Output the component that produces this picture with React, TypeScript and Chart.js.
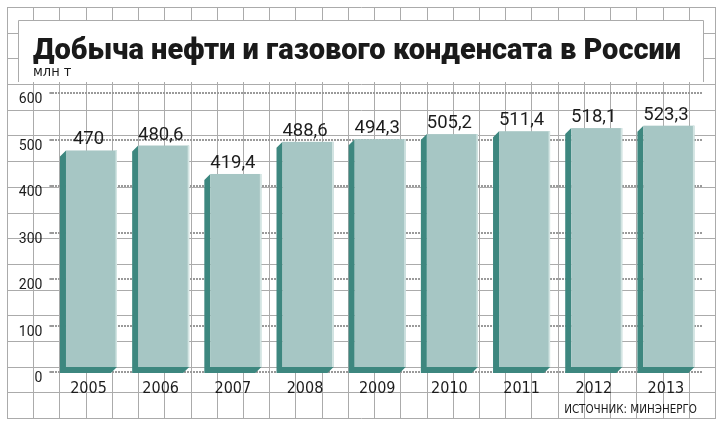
import React, { useEffect, useRef } from "react";
import { Chart, registerables } from "chart.js";

Chart.register(...registerables);

const years = ["2005", "2006", "2007", "2008", "2009", "2010", "2011", "2012", "2013"];
const production = [470, 480.6, 419.4, 488.6, 494.3, 505.2, 511.4, 518.1, 523.3];
const yTicks = [0, 100, 200, 300, 400, 500, 600];
const titleText = "Добыча нефти и газового конденсата в России";
const unitText = "млн т";
const sourceText = "ИСТОЧНИК: МИНЭНЕРГО";

const NARROW = '"Liberation Sans Narrow", "DejaVu Sans Condensed", "Liberation Sans", sans-serif';

const backgroundPlugin = {
  id: "paperGrid",
  beforeDraw(chart: any) {
    const ctx = chart.ctx;
    ctx.save();
    ctx.fillStyle = "#ffffff";
    ctx.fillRect(0, 0, chart.width, chart.height);
    const x0 = 7, x1 = 715, y0 = 7, y1 = 418;
    const cols = 27, rows = 16;
    ctx.strokeStyle = "#ababab";
    ctx.lineWidth = 1;
    ctx.beginPath();
    for (let k = 0; k <= cols; k++) {
      const x = Math.round(x0 + (k * (x1 - x0)) / cols) + 0.5;
      ctx.moveTo(x, y0);
      ctx.lineTo(x, y1 + 0.5);
    }
    for (let k = 0; k <= rows; k++) {
      const y = Math.round(y0 + (k * (y1 - y0)) / rows) + 0.5;
      ctx.moveTo(x0, y);
      ctx.lineTo(x1 + 1, y);
    }
    ctx.stroke();
    // title box
    const bx0 = 18, bx1 = 703, by0 = 20, by1 = 82;
    ctx.fillStyle = "#ffffff";
    ctx.fillRect(bx0, by0, bx1 - bx0, by1 - by0);
    ctx.beginPath();
    ctx.moveTo(bx0 + 0.5, by1);
    ctx.lineTo(bx0 + 0.5, by0 + 0.5);
    ctx.lineTo(bx1 + 0.5, by0 + 0.5);
    ctx.lineTo(bx1 + 0.5, by1);
    ctx.stroke();
    ctx.restore();
  },
};

const bar3dPlugin = {
  id: "bar3d",
  afterDatasetsDraw(chart: any) {
    const ctx = chart.ctx;
    const meta = chart.getDatasetMeta(0);
    const d = 6;
    ctx.save();
    meta.data.forEach((el: any, i: number) => {
      const p = el.getProps(["x", "y", "base", "width"], true);
      const left = p.x - p.width / 2 + d;
      const right = p.x + p.width / 2;
      const top = p.y - 3;
      const bottom = p.base - 4;
      // extrusion (dark)
      ctx.fillStyle = "#3d877f";
      ctx.beginPath();
      ctx.moveTo(left, top);
      ctx.lineTo(left - d, top + d);
      ctx.lineTo(left - d, bottom + d);
      ctx.lineTo(right - d, bottom + d);
      ctx.lineTo(right, bottom);
      ctx.lineTo(left, bottom);
      ctx.closePath();
      ctx.fill();
      // face
      ctx.fillStyle = "#a6c6c4";
      ctx.fillRect(left, top, right - left, bottom - top);
      ctx.fillStyle = "#d3e5e3";
      ctx.fillRect(right - 1.5, top, 1.5, bottom - top);
      // label
      const v = production[i];
      const txt = String(v).replace(".", ",");
      ctx.fillStyle = "#1c1c1c";
      ctx.font = '18.5px Roboto, "Liberation Sans", sans-serif';
      ctx.textAlign = "center";
      ctx.textBaseline = "alphabetic";
      ctx.fillText(txt, p.x, top - 6);
    });
    ctx.restore();
  },
};

export default function App() {
  const ref = useRef<HTMLCanvasElement | null>(null);

  useEffect(() => {
    document.body.style.margin = "0";
    if (!ref.current) return;
    const chart = new Chart(ref.current, {
      type: "bar",
      data: {
        labels: years,
        datasets: [
          {
            data: production,
            backgroundColor: "rgba(0,0,0,0)",
            borderWidth: 0,
            barPercentage: 0.79,
            categoryPercentage: 1,
          },
        ],
      },
      options: {
        responsive: false,
        animation: false,
        devicePixelRatio: 1,
        layout: { padding: { left: 0, right: 22, top: 93, bottom: 0 } },
        plugins: {
          legend: { display: false },
          tooltip: { enabled: false },
          title: { display: false },
        },
        scales: {
          x: {
            grid: { display: false },
            border: { display: false },
            ticks: {
              color: "#1c1c1c",
              font: { family: NARROW, size: 16 },
              padding: -1,
              maxRotation: 0,
            },
            afterFit: (scale: any) => {
              scale.height = 56;
            },
          },
          y: {
            min: 0,
            max: 600,
            afterBuildTicks: (scale: any) => {
              scale.ticks = yTicks.map((v) => ({ value: v }));
            },
            grid: {
              color: "#9a9a9a",
              lineWidth: 2,
              drawTicks: true,
              tickLength: 3,
              tickColor: "#9a9a9a",
            },
            border: { display: false, dash: [2, 1] },
            ticks: {
              color: "#1c1c1c",
              font: { family: 'Roboto, "Liberation Sans", sans-serif', size: 14 },
              padding: 7,
              labelOffset: 6.5,
            },
            afterFit: (scale: any) => {
              scale.width = 52.4;
            },
          },
        },
      },
      plugins: [backgroundPlugin, bar3dPlugin],
    });
    return () => chart.destroy();
  }, []);

  return (
    <div style={{ position: "relative", width: 724, height: 428, overflow: "hidden" }}>
      <canvas ref={ref} width={724} height={428} style={{ display: "block" }} />
      <div
        style={{
          position: "absolute",
          left: 33,
          top: 32,
          fontFamily: 'Roboto, "Open Sans", sans-serif',
          fontWeight: 900,
          fontSize: 29,
          lineHeight: "34px",
          color: "#1a1a1a",
          whiteSpace: "nowrap",
          letterSpacing: 0,
        }}
      >
        {titleText}
      </div>
      <div
        style={{
          position: "absolute",
          left: 33,
          top: 63,
          fontFamily: NARROW,
          fontSize: 14.5,
          lineHeight: "17px",
          color: "#1a1a1a",
          whiteSpace: "nowrap",
        }}
      >
        {unitText}
      </div>
      <div
        style={{
          position: "absolute",
          right: 724 - 697,
          top: 401,
          fontFamily: NARROW,
          fontSize: 11.5,
          lineHeight: "16px",
          color: "#1a1a1a",
          whiteSpace: "nowrap",
        }}
      >
        {sourceText}
      </div>
    </div>
  );
}
